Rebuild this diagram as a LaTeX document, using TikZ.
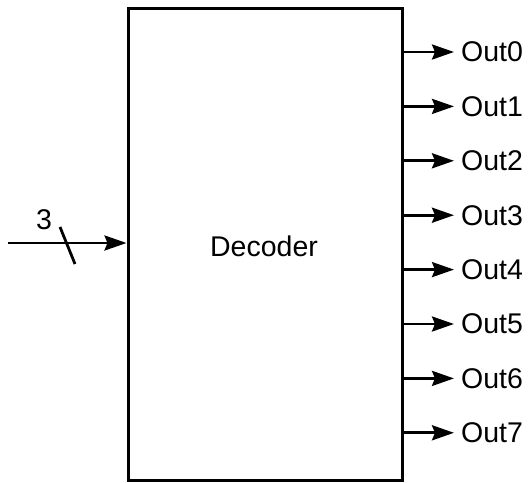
\documentclass[tikz,border=0pt]{standalone}
\usepackage{fontspec}
\setmainfont{Liberation Sans}
\usetikzlibrary{arrows.meta}
\begin{document}
\begin{tikzpicture}[x=1pt,y=-1pt,
  wire/.style={line width=2.8pt,-{Stealth[length=22pt,width=15pt,inset=3pt]}},
  lbl/.style={font=\fontsize{28.5}{32}\selectfont,text=black,inner sep=0pt},
  boxst/.style={draw,line width=3pt,minimum width=274pt,minimum height=472pt,inner sep=0pt}]
\useasboundingbox (0,0) rectangle (530,482);
\node[boxst] (dec) at (265,244) {};
\node[lbl] (dtext) at (264,246) {Decoder};
\coordinate (in) at (8,243);
\draw[wire] (in) -- (in -| dec.west);
\coordinate (s1) at (60,227);
\coordinate (s2) at (75,264);
\draw[line width=2.8pt] (s1) -- (s2);
\node[lbl] (three) at (44,220) {3};
\foreach \i in {0,...,7}{
  \coordinate (o\i) at (402,{52+\i*54.4});
  \coordinate (e\i) at (454,{52+\i*54.4});
  \node[lbl,anchor=west] (out\i) at (461,{52+\i*54.4}) {Out\i};
  \draw[wire] (o\i -| dec.east) -- (e\i);
}
\end{tikzpicture}
\end{document}
